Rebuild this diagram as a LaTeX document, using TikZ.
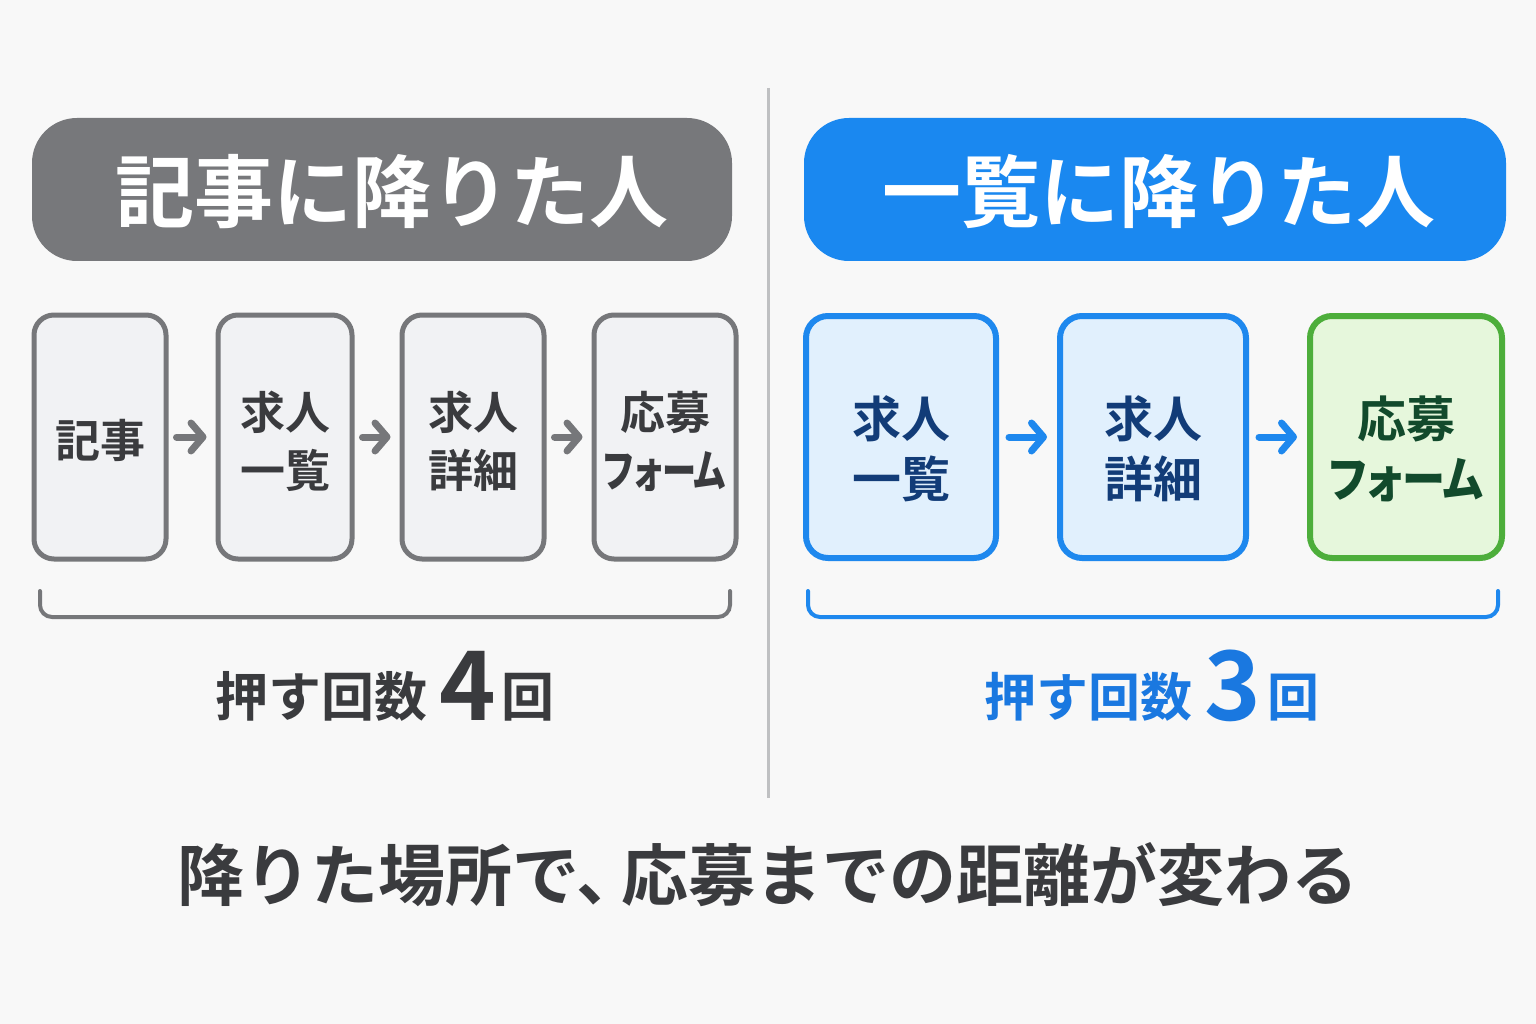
\documentclass[tikz,border=0pt]{standalone}
\usepackage{fontspec}
\setmainfont{Noto Sans CJK JP}[BoldFont={Noto Sans CJK JP Bold}]
\newfontfamily\cjkp{Noto Sans CJK JP Bold}[RawFeature=+palt]
\usetikzlibrary{arrows.meta}
\definecolor{bg}{HTML}{F8F8F8}
\definecolor{hgray}{HTML}{77787B}
\definecolor{hblue}{HTML}{1A88F0}
\definecolor{gfill}{HTML}{F1F2F4}
\definecolor{gline}{HTML}{76777A}
\definecolor{bfill}{HTML}{E1F0FD}
\definecolor{bline}{HTML}{1E88EE}
\definecolor{nfill}{HTML}{E6F7DC}
\definecolor{nline}{HTML}{4DAE3B}
\definecolor{dtext}{HTML}{3A3B3E}
\definecolor{btext}{HTML}{123C78}
\definecolor{ntext}{HTML}{124A2C}
\definecolor{ltext}{HTML}{1A78E0}
\definecolor{divc}{HTML}{BFC0C2}
\tikzset{
  pill/.style={text=white, font=\bfseries\fontsize{79}{80}\selectfont, inner sep=0pt, align=center},
  gbox/.style={draw=gline, line width=5pt, fill=gfill, rounded corners=20pt, inner sep=0pt},
  bbox/.style={draw=bline, line width=6pt, fill=bfill, rounded corners=22pt, inner sep=0pt},
  nbox/.style={draw=nline, line width=6pt, fill=nfill, rounded corners=22pt, inner sep=0pt},
  gtxt/.style={text=dtext, font=\bfseries\fontsize{45}{58}\selectfont, align=center, inner sep=0pt},
  btxt/.style={text=btext, font=\bfseries\fontsize{49}{60}\selectfont, align=center, inner sep=0pt},
  ntxt/.style={text=ntext, font=\bfseries\fontsize{49}{60}\selectfont, align=center, inner sep=0pt},
  garrow/.style={draw=gline, line width=7pt, line cap=round, -{Straight Barb[round, length=12pt, width=28pt]}},
  barrow/.style={draw=bline, line width=7pt, line cap=round, -{Straight Barb[round, length=12pt, width=28pt]}},
  brk/.style={line width=4pt, rounded corners=12pt, line cap=round},
}
\begin{document}
\begin{tikzpicture}[x=1pt,y=-1pt]
\useasboundingbox (0,0) rectangle (1536,1024);
\fill[bg] (0,0) rectangle (1536,1024);
% divider
\draw[divc, line width=3pt] (768,88) coordinate (d1) -- (768,798) coordinate (d2);
% headers
\fill[hgray, rounded corners=45pt] (32,118) rectangle (732,261);
\node[pill] (hl) at (392,192) {記事に降りた人};
\fill[hblue, rounded corners=45pt] (804,118) rectangle (1506,261);
\node[pill] (hr) at (1159,192) {一覧に降りた人};
% left boxes
\node[gbox, minimum width=132pt, minimum height=244pt] (l1) at (100,437) {};
\node[gbox, minimum width=134pt, minimum height=244pt] (l2) at (285,437) {};
\node[gbox, minimum width=142pt, minimum height=244pt] (l3) at (473,437) {};
\node[gbox, minimum width=142pt, minimum height=244pt] (l4) at (665,437) {};
\node[gtxt] (l1t) at ([yshift=-3pt]l1.center) {記事};
\node[gtxt] (l2t) at ([yshift=-4pt]l2.center) {求人\\一覧};
\node[gtxt] (l3t) at ([yshift=-4pt]l3.center) {求人\\詳細};
\node[gtxt] (l4t) at ([yshift=-4pt]l4.center) {応募\\\scalebox{0.76}[1]{\cjkp フォーム}};
\draw[garrow] ([xshift=8pt]l1.east) -- ([xshift=-9pt]l2.west);
\draw[garrow] ([xshift=8pt]l2.east) -- ([xshift=-9pt]l3.west);
\draw[garrow] ([xshift=8pt]l3.east) -- ([xshift=-9pt]l4.west);
% right boxes
\node[bbox, minimum width=190pt, minimum height=242pt] (r1) at (901,437) {};
\node[bbox, minimum width=186pt, minimum height=242pt] (r2) at (1153,437) {};
\node[nbox, minimum width=192pt, minimum height=242pt] (r3) at (1406,437) {};
\node[btxt] (r1t) at ([yshift=-12pt]r1.center) {求人\\一覧};
\node[btxt] (r2t) at ([yshift=-12pt]r2.center) {求人\\詳細};
\node[ntxt] (r3t) at ([yshift=-12pt]r3.center) {応募\\\scalebox{0.88}[1]{\cjkp フォーム}};
\draw[barrow] ([xshift=10pt]r1.east) -- ([xshift=-10pt]r2.west);
\draw[barrow] ([xshift=10pt]r2.east) -- ([xshift=-10pt]r3.west);
% brackets
\draw[brk, gline] (40,591) -- (40,617) -- (730,617) -- (730,591);
\draw[brk, bline] (808,591) -- (808,617) -- (1498,617) -- (1498,591);
% counts
\node[text=dtext, font=\bfseries, inner sep=0pt] (cl) at (385,686)
  {\fontsize{53}{60}\selectfont 押す回数\hspace{12pt}\raisebox{-4pt}{\fontsize{96}{100}\selectfont 4}\hspace{6pt}回};
\node[text=ltext, font=\bfseries, inner sep=0pt] (cr) at (1152,686)
  {\fontsize{52}{60}\selectfont 押す回数\hspace{12pt}\raisebox{-4pt}{\fontsize{96}{100}\selectfont 3}\hspace{6pt}回};
% bottom
\node[text=dtext, font=\bfseries\fontsize{67}{70}\selectfont, inner sep=0pt] (bt) at (768,875) {降りた場所で、\hspace{-22pt}応募までの距離が変わる};
\end{tikzpicture}
\end{document}
